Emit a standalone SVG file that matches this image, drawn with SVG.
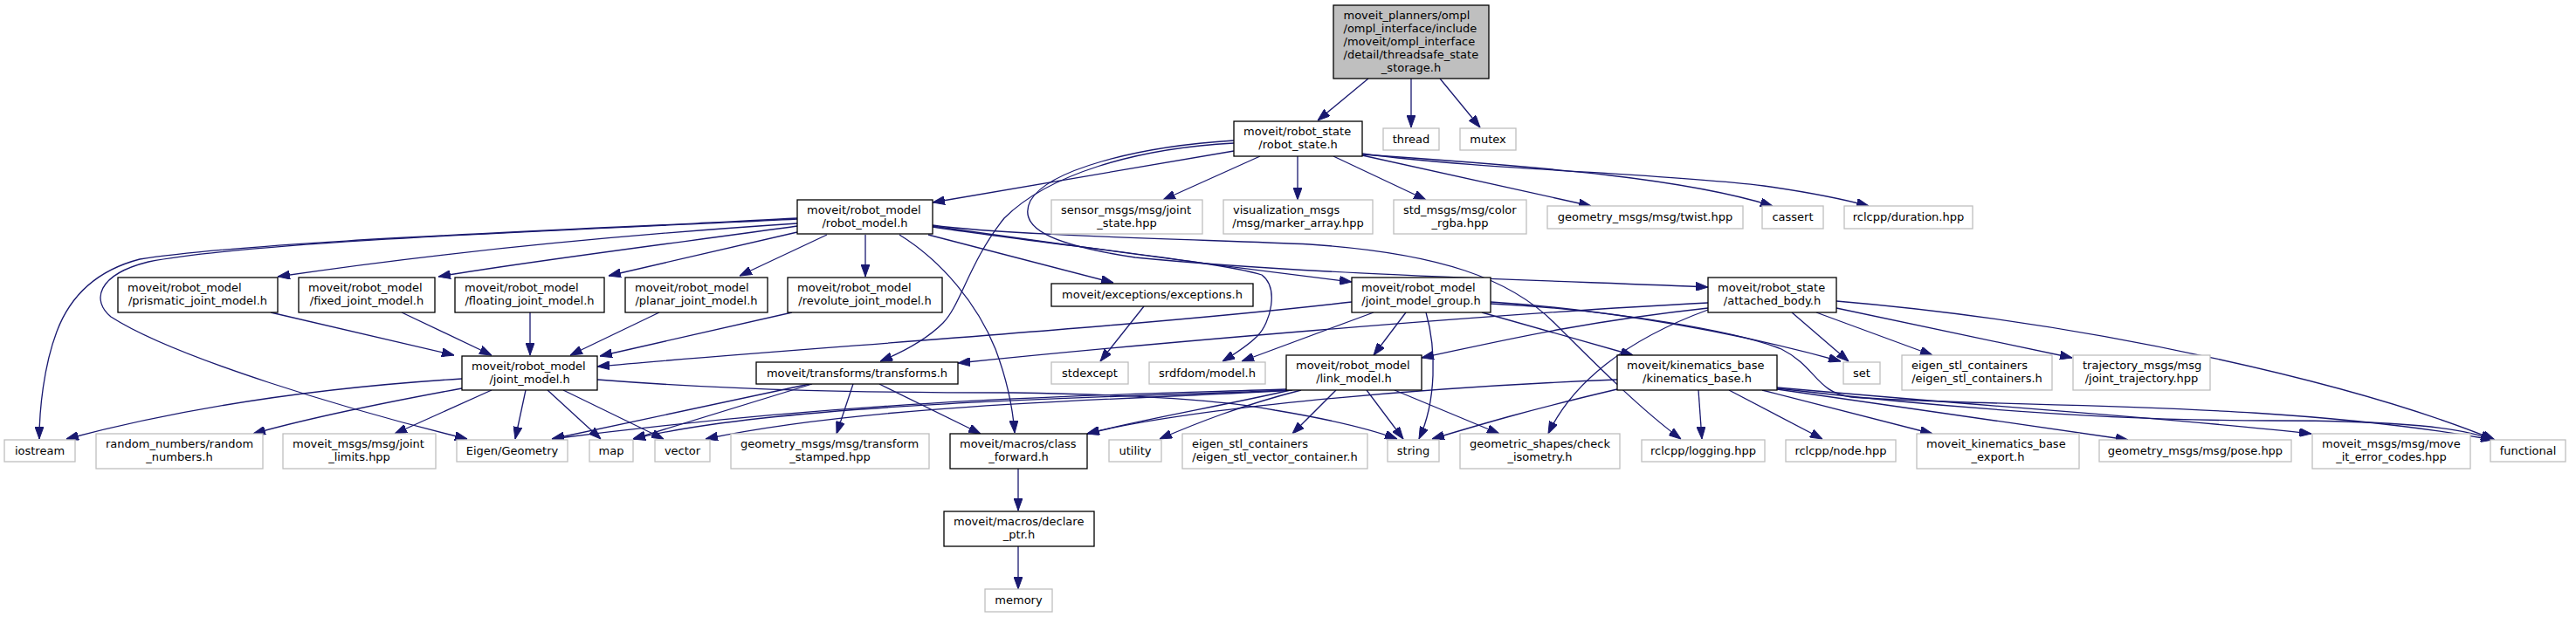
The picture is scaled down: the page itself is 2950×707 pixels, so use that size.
<svg xmlns="http://www.w3.org/2000/svg" width="2950" height="707" viewBox="0 0 2950 707">
<style>
.e{fill:none;stroke:#191970;stroke-width:1.3;marker-end:url(#a)}
.b rect{fill:#fff;stroke:#000;stroke-width:1.3}
.g rect{fill:#fff;stroke:#bfbfbf;stroke-width:1.3}
#n_T rect{fill:#bfbfbf}
text{font-family:"DejaVu Sans",sans-serif;font-size:13px;fill:#000}
.m{text-anchor:middle}
</style>
<defs>
<marker id="a" markerUnits="userSpaceOnUse" markerWidth="14" markerHeight="10" refX="14" refY="5" orient="auto" viewBox="0 0 14 10"><path d="M0,0 L14,5 L0,10 z" fill="#191970" stroke="#191970" stroke-width="1"/></marker>
</defs>
<rect width="2950" height="707" fill="#fff"/>
<g id="edges">
<path class="e" d="M1567,90 L1509,138"/>
<path class="e" d="M1616,90 L1616,146"/>
<path class="e" d="M1649,90 L1695,146"/>
<path class="e" d="M1413,173 L1068,232"/>
<path class="e" d="M1443,179 L1332,229"/>
<path class="e" d="M1486,179 L1486,229"/>
<path class="e" d="M1527,179 L1633,229"/>
<path class="e" d="M1560,178 L1822,236"/>
<path class="e" d="M1560,177 C1780,192 1930,205 2030,236"/>
<path class="e" d="M1560,176 C1700,195 1900,198 2020,213 C2070,220 2110,228 2140,236"/>
<path class="e" d="M1413,164 C1300,170 1200,200 1150,250 C1110,300 1100,350 1080,370 C1060,390 1030,405 1008,414"/>
<path class="e" d="M1413,161 C1300,168 1200,195 1180,230 C1165,260 1200,280 1300,295 C1500,315 1800,322 1956,329"/>
<path class="e" d="M913,256 C700,270 500,290 318,317"/>
<path class="e" d="M913,259 C800,275 600,300 502,317"/>
<path class="e" d="M913,266 L697,316"/>
<path class="e" d="M947,269 L847,316"/>
<path class="e" d="M991,269 L991,317"/>
<path class="e" d="M1063,269 L1275,324"/>
<path class="e" d="M1030,269 C1080,300 1120,350 1140,400 C1155,440 1160,470 1162,496"/>
<path class="e" d="M913,250 C700,262 300,275 160,297 C110,310 80,340 65,380 C50,420 45,470 45,503"/>
<path class="e" d="M913,251 C700,262 300,275 170,300 C110,315 105,345 127,363 C200,410 400,470 535,503"/>
<path class="e" d="M1068,258 C1150,270 1400,275 1500,280 C1650,290 1730,320 1780,370 C1830,420 1880,470 1925,503"/>
<path class="e" d="M1068,260 C1200,280 1400,300 1445,315 C1465,330 1455,370 1440,385 C1430,395 1415,405 1400,414"/>
<path class="e" d="M1068,259 C1250,285 1400,305 1548,323"/>
<path class="e" d="M1548,346 C1300,375 900,400 684,420"/>
<path class="e" d="M1610,358 L1573,407"/>
<path class="e" d="M1697,358 L1870,407"/>
<path class="e" d="M1573,358 L1422,414"/>
<path class="e" d="M1633,358 C1645,400 1645,460 1625,503"/>
<path class="e" d="M1707,346 C1800,352 1950,370 2108,414"/>
<path class="e" d="M1707,348 C1850,355 1990,380 2040,400 C2080,420 2080,450 2120,455 C2300,468 2600,458 2855,504"/>
<path class="e" d="M1473,446 C1300,452 1000,455 632,503"/>
<path class="e" d="M1476,447 C1300,455 900,460 725,503"/>
<path class="e" d="M1480,447 C1300,458 1000,462 808,503"/>
<path class="e" d="M1490,447 C1420,465 1370,485 1328,503"/>
<path class="e" d="M1530,447 L1480,497"/>
<path class="e" d="M1478,447 C1400,465 1300,482 1245,497"/>
<path class="e" d="M1597,447 L1717,497"/>
<path class="e" d="M1565,447 L1607,503"/>
<path class="e" d="M1956,353 C1800,370 1700,395 1628,410"/>
<path class="e" d="M1956,347 C1700,360 1300,395 1097,416"/>
<path class="e" d="M1956,355 C1860,390 1800,440 1773,497"/>
<path class="e" d="M2052,358 L2117,414"/>
<path class="e" d="M2080,358 L2213,407"/>
<path class="e" d="M2103,353 L2373,410"/>
<path class="e" d="M2103,345 C2400,370 2700,440 2857,504"/>
<path class="e" d="M1945,447 L1949,503"/>
<path class="e" d="M1980,447 L2087,503"/>
<path class="e" d="M2018,447 L2213,497"/>
<path class="e" d="M2035,446 L2437,504"/>
<path class="e" d="M2035,444 C2300,468 2500,480 2647,497"/>
<path class="e" d="M2035,445 C2250,470 2440,482 2600,482 C2750,482 2820,490 2855,504"/>
<path class="e" d="M1852,446 C1750,470 1700,485 1640,503"/>
<path class="e" d="M1852,435 C1600,445 1350,470 1245,497"/>
<path class="e" d="M602,447 L590,503"/>
<path class="e" d="M627,447 L688,503"/>
<path class="e" d="M645,447 L760,503"/>
<path class="e" d="M529,434 C350,445 200,470 76,503"/>
<path class="e" d="M529,445 C420,465 350,480 290,497"/>
<path class="e" d="M563,447 L452,497"/>
<path class="e" d="M684,435 C850,448 1000,450 1160,450 C1300,452 1400,458 1460,470 C1520,480 1570,492 1600,503"/>
<path class="e" d="M927,440 L632,503"/>
<path class="e" d="M930,440 L725,503"/>
<path class="e" d="M977,440 L958,497"/>
<path class="e" d="M1007,440 L1123,497"/>
<path class="e" d="M310,358 L520,407"/>
<path class="e" d="M460,358 L563,407"/>
<path class="e" d="M607,358 L607,407"/>
<path class="e" d="M755,358 L653,407"/>
<path class="e" d="M907,358 L687,408"/>
<path class="e" d="M1310,351 L1260,414"/>
<path class="e" d="M1166,537 L1166,585"/>
<path class="e" d="M1166,626 L1166,675"/>
</g>
<g id="n_T" class="b"><rect x="1527" y="6" width="178" height="84"/><text x="1538.5" y="22.4">moveit_planners/ompl</text><text x="1538.5" y="37.2">/ompl_interface/include</text><text x="1538.5" y="52">/moveit/ompl_interface</text><text x="1538.5" y="66.8">/detail/threadsafe_state</text><text class="m" x="1616" y="81.6">_storage.h</text></g>
<g id="n_RS" class="b"><rect x="1413" y="139" width="147" height="40"/><text x="1424" y="155">moveit/robot_state</text><text class="m" x="1486.5" y="170">/robot_state.h</text></g>
<g id="n_thread" class="g"><rect x="1584" y="147" width="64" height="25"/><text class="m" x="1616" y="163.5">thread</text></g>
<g id="n_mutex" class="g"><rect x="1672" y="147" width="64" height="25"/><text class="m" x="1704" y="163.5">mutex</text></g>
<g id="n_RM" class="b"><rect x="913" y="229" width="155" height="39"/><text x="924" y="244.5">moveit/robot_model</text><text class="m" x="990.5" y="259.5">/robot_model.h</text></g>
<g id="n_sensor" class="g"><rect x="1204" y="229" width="173" height="39"/><text x="1215" y="244.5">sensor_msgs/msg/joint</text><text class="m" x="1290.5" y="259.5">_state.hpp</text></g>
<g id="n_vis" class="g"><rect x="1401" y="229" width="171" height="39"/><text x="1412" y="244.5">visualization_msgs</text><text class="m" x="1486.5" y="259.5">/msg/marker_array.hpp</text></g>
<g id="n_color" class="g"><rect x="1596" y="229" width="152" height="39"/><text x="1607" y="244.5">std_msgs/msg/color</text><text class="m" x="1672" y="259.5">_rgba.hpp</text></g>
<g id="n_twist" class="g"><rect x="1772" y="236" width="224" height="26"/><text class="m" x="1884" y="253">geometry_msgs/msg/twist.hpp</text></g>
<g id="n_cassert" class="g"><rect x="2018" y="236" width="70" height="26"/><text class="m" x="2053" y="253">cassert</text></g>
<g id="n_duration" class="g"><rect x="2112" y="236" width="147" height="26"/><text class="m" x="2185.5" y="253">rclcpp/duration.hpp</text></g>
<g id="n_prism" class="b"><rect x="135" y="318" width="183" height="40"/><text x="146" y="334">moveit/robot_model</text><text class="m" x="226.5" y="349">/prismatic_joint_model.h</text></g>
<g id="n_fixed" class="b"><rect x="342" y="318" width="156" height="40"/><text x="353" y="334">moveit/robot_model</text><text class="m" x="420" y="349">/fixed_joint_model.h</text></g>
<g id="n_floating" class="b"><rect x="521" y="318" width="171" height="40"/><text x="532" y="334">moveit/robot_model</text><text class="m" x="606.5" y="349">/floating_joint_model.h</text></g>
<g id="n_planar" class="b"><rect x="716" y="318" width="163" height="40"/><text x="727" y="334">moveit/robot_model</text><text class="m" x="797.5" y="349">/planar_joint_model.h</text></g>
<g id="n_revolute" class="b"><rect x="902" y="318" width="177" height="40"/><text x="913" y="334">moveit/robot_model</text><text class="m" x="990.5" y="349">/revolute_joint_model.h</text></g>
<g id="n_exc" class="b"><rect x="1204" y="325" width="231" height="26"/><text class="m" x="1319.5" y="342">moveit/exceptions/exceptions.h</text></g>
<g id="n_JMG" class="b"><rect x="1548" y="318" width="159" height="40"/><text x="1559" y="334">moveit/robot_model</text><text class="m" x="1627.5" y="349">/joint_model_group.h</text></g>
<g id="n_AB" class="b"><rect x="1956" y="318" width="147" height="40"/><text x="1967" y="334">moveit/robot_state</text><text class="m" x="2029.5" y="349">/attached_body.h</text></g>
<g id="n_JM" class="b"><rect x="529" y="408" width="155" height="39"/><text x="540" y="423.5">moveit/robot_model</text><text class="m" x="606.5" y="438.5">/joint_model.h</text></g>
<g id="n_tf" class="b"><rect x="866" y="415" width="231" height="25"/><text class="m" x="981.5" y="431.5">moveit/transforms/transforms.h</text></g>
<g id="n_stdexcept" class="g"><rect x="1204" y="415" width="88" height="25"/><text class="m" x="1248" y="431.5">stdexcept</text></g>
<g id="n_srdf" class="g"><rect x="1316" y="415" width="133" height="25"/><text class="m" x="1382.5" y="431.5">srdfdom/model.h</text></g>
<g id="n_LM" class="b"><rect x="1473" y="407" width="155" height="40"/><text x="1484" y="423">moveit/robot_model</text><text class="m" x="1550.5" y="438">/link_model.h</text></g>
<g id="n_KB" class="b"><rect x="1852" y="407" width="183" height="40"/><text x="1863" y="423">moveit/kinematics_base</text><text class="m" x="1943.5" y="438">/kinematics_base.h</text></g>
<g id="n_set" class="g"><rect x="2111" y="415" width="42" height="25"/><text class="m" x="2132" y="431.5">set</text></g>
<g id="n_esc" class="g"><rect x="2178" y="407" width="172" height="40"/><text x="2189" y="423">eigen_stl_containers</text><text class="m" x="2264" y="438">/eigen_stl_containers.h</text></g>
<g id="n_traj" class="g"><rect x="2374" y="407" width="157" height="40"/><text x="2385" y="423">trajectory_msgs/msg</text><text class="m" x="2452.5" y="438">/joint_trajectory.hpp</text></g>
<g id="n_iostream" class="g"><rect x="5" y="504" width="81" height="25"/><text class="m" x="45.5" y="520.5">iostream</text></g>
<g id="n_random" class="g"><rect x="110" y="497" width="191" height="40"/><text x="121" y="513">random_numbers/random</text><text class="m" x="205.5" y="528">_numbers.h</text></g>
<g id="n_jlimits" class="g"><rect x="324" y="497" width="175" height="40"/><text x="335" y="513">moveit_msgs/msg/joint</text><text class="m" x="411.5" y="528">_limits.hpp</text></g>
<g id="n_eigen" class="g"><rect x="523" y="504" width="127" height="25"/><text class="m" x="586.5" y="520.5">Eigen/Geometry</text></g>
<g id="n_map" class="g"><rect x="675" y="504" width="50" height="25"/><text class="m" x="700" y="520.5">map</text></g>
<g id="n_vector" class="g"><rect x="750" y="504" width="63" height="25"/><text class="m" x="781.5" y="520.5">vector</text></g>
<g id="n_tfs" class="g"><rect x="837" y="497" width="227" height="40"/><text x="848" y="513">geometry_msgs/msg/transform</text><text class="m" x="950.5" y="528">_stamped.hpp</text></g>
<g id="n_cf" class="b"><rect x="1088" y="497" width="157" height="40"/><text x="1099" y="513">moveit/macros/class</text><text class="m" x="1166.5" y="528">_forward.h</text></g>
<g id="n_utility" class="g"><rect x="1270" y="504" width="60" height="25"/><text class="m" x="1300" y="520.5">utility</text></g>
<g id="n_esvc" class="g"><rect x="1354" y="497" width="212" height="40"/><text x="1365" y="513">eigen_stl_containers</text><text class="m" x="1460" y="528">/eigen_stl_vector_container.h</text></g>
<g id="n_string" class="g"><rect x="1589" y="504" width="59" height="25"/><text class="m" x="1618.5" y="520.5">string</text></g>
<g id="n_check" class="g"><rect x="1672" y="497" width="183" height="40"/><text x="1683" y="513">geometric_shapes/check</text><text class="m" x="1763.5" y="528">_isometry.h</text></g>
<g id="n_logging" class="g"><rect x="1880" y="504" width="141" height="25"/><text class="m" x="1950.5" y="520.5">rclcpp/logging.hpp</text></g>
<g id="n_node" class="g"><rect x="2045" y="504" width="126" height="25"/><text class="m" x="2108" y="520.5">rclcpp/node.hpp</text></g>
<g id="n_export" class="g"><rect x="2195" y="497" width="186" height="40"/><text x="2206" y="513">moveit_kinematics_base</text><text class="m" x="2288" y="528">_export.h</text></g>
<g id="n_pose" class="g"><rect x="2404" y="504" width="220" height="25"/><text class="m" x="2514" y="520.5">geometry_msgs/msg/pose.hpp</text></g>
<g id="n_err" class="g"><rect x="2648" y="497" width="181" height="40"/><text x="2659" y="513">moveit_msgs/msg/move</text><text class="m" x="2738.5" y="528">_it_error_codes.hpp</text></g>
<g id="n_functional" class="g"><rect x="2852" y="504" width="86" height="25"/><text class="m" x="2895" y="520.5">functional</text></g>
<g id="n_dp" class="b"><rect x="1081" y="586" width="172" height="40"/><text x="1092" y="602">moveit/macros/declare</text><text class="m" x="1167" y="617">_ptr.h</text></g>
<g id="n_memory" class="g"><rect x="1128" y="675" width="77" height="26"/><text class="m" x="1166.5" y="692">memory</text></g>
</svg>
